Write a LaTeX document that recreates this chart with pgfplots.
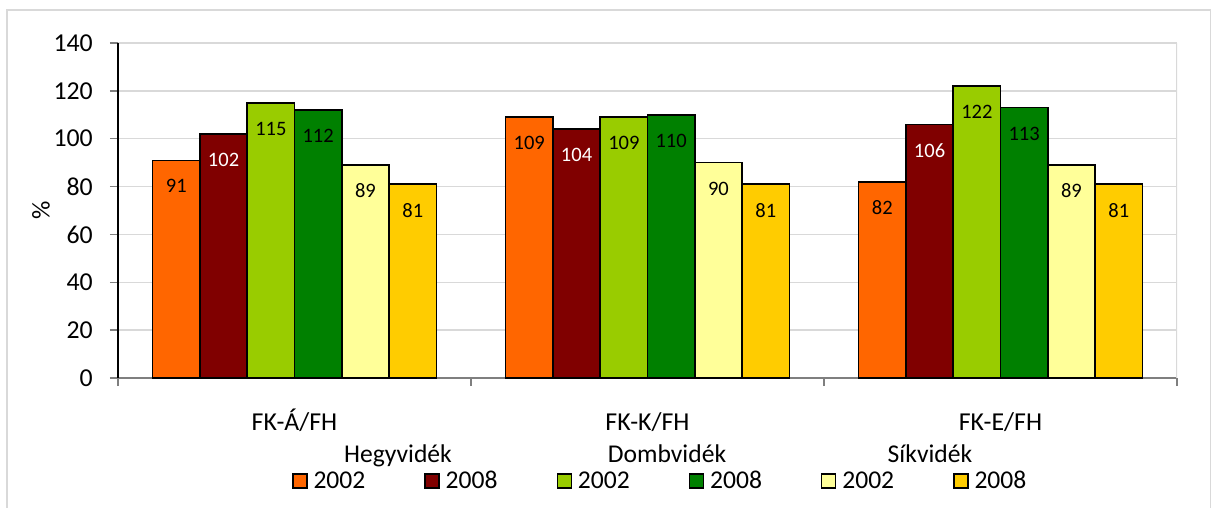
\documentclass[border=0pt]{standalone}
\usepackage{pgfplots}
\pgfplotsset{compat=1.18}
\usepackage{fontspec}
\setmainfont{Carlito}
\definecolor{cA}{HTML}{FF6600}
\definecolor{cB}{HTML}{800000}
\definecolor{cC}{HTML}{99CC00}
\definecolor{cD}{HTML}{008000}
\definecolor{cE}{HTML}{FFFF99}
\definecolor{cF}{HTML}{FFCC00}
\definecolor{gridc}{HTML}{D9D9D9}
\definecolor{tickc}{HTML}{7F7F7F}
\begin{document}
\begin{tikzpicture}[x=1pt,y=1pt]
\path[use as bounding box] (0,0) rectangle (1212,507);
\draw[gridc, line width=1.8pt] (7,-5) -- (7,497) -- (1210.5,497) -- (1210.5,-5);
\begin{axis}[
  at={(118pt,129pt)}, anchor=south west,
  scale only axis, width=1059pt, height=335pt,
  xmin=-0.5, xmax=2.5, ymin=0, ymax=140,
  ytick={0,20,...,140},
  xtick={0,1,2},
  xticklabels={FK-Á/FH,FK-K/FH,FK-E/FH},
  minor xtick={-0.5,0.5,1.5,2.5},
  axis lines*=left,
  x axis line style={draw=tickc, line width=1.3pt},
  y axis line style={draw=black, line width=1.3pt},
  ymajorgrids, major grid style={draw=gridc, line width=1.5pt},
  tick align=outside,
  major tick length=8pt,
  minor tick length=8pt,
  xtick style={draw=none},
  minor x tick style={draw=tickc, line width=1.3pt},
  ytick style={draw=tickc, line width=1.3pt},
  tick label style={font=\fontsize{25.8}{30}\selectfont},
  /pgf/number format/assume math mode=true,
  yticklabel style={anchor=east, inner sep=0pt, xshift=-17pt},
  xticklabel style={anchor=base, inner sep=0pt, yshift=-44pt},
  ylabel={\%},
  every axis y label/.style={at={(axis description cs:0,0.5)}, xshift=-77pt, rotate=90, anchor=center, font=\fontsize{25.6}{30}\selectfont},
  ybar=0pt, bar width=47.3pt,
  every axis plot/.append style={draw=black, line width=1.5pt},
  nodes near coords,
  every node near coord/.append style={font=\fontsize{20.5}{24}\selectfont, anchor=center, yshift=-26pt, text=black},
  legend columns=6,
  legend image code/.code={\draw[#1, line width=1.3pt] (0pt,-7pt) rectangle (14pt,7pt);},
  legend style={draw=none, fill=none, font=\fontsize{25.6}{30}\selectfont,
    at={(axis description cs:0.1643,-0.307)}, anchor=west, inner sep=0pt,
    nodes={inner sep=0pt},
    /tikz/every odd column/.append style={column sep=6pt},
    /tikz/every even column/.append style={column sep=59pt}},
]
\addplot[fill=cA] coordinates {(0,91) (1,109) (2,82)};
\addplot[fill=cB, every node near coord/.append style={text=white}] coordinates {(0,102) (1,104) (2,106)};
\addplot[fill=cC] coordinates {(0,115) (1,109) (2,122)};
\addplot[fill=cD] coordinates {(0,112) (1,110) (2,113)};
\addplot[fill=cE] coordinates {(0,89) (1,90) (2,89)};
\addplot[fill=cF] coordinates {(0,81) (1,81) (2,81)};
\legend{2002,2008,2002,2008,2002,2008}
\draw[gridc, line width=1.5pt] (rel axis cs:1,0) -- (rel axis cs:1,1);
\end{axis}
\begin{scope}[every node/.style={font=\fontsize{25.6}{30}\selectfont, inner sep=0pt, anchor=base}]
\node at (398,45) {Hegyvidék};
\node at (667,45) {Dombvidék};
\node at (930,45) {Síkvidék};
\end{scope}
\end{tikzpicture}
\end{document}
